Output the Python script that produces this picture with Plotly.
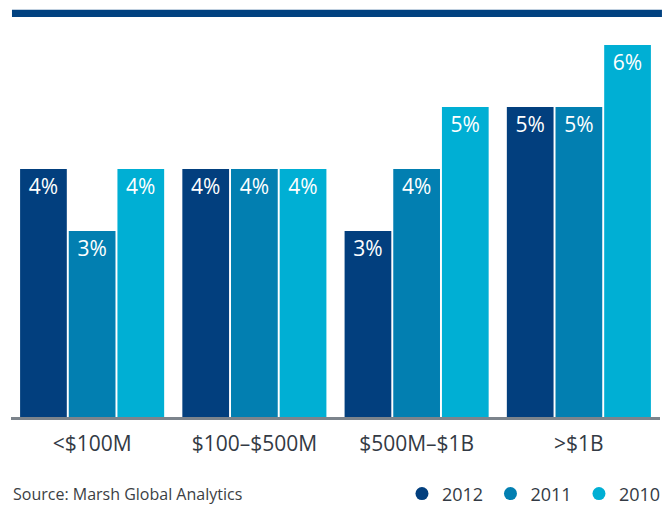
import plotly.graph_objects as go

categories = ["<$100M", "$100–$500M", "$500M–$1B", ">$1B"]
years = ["2012", "2011", "2010"]
values_2012 = [4, 4, 3, 5]
values_2011 = [3, 4, 4, 5]
values_2010 = [4, 4, 5, 6]
series = [values_2012, values_2011, values_2010]
colors = ["#023f7e", "#027fb1", "#00afd4"]

fig = go.Figure()
for name, vals, col in zip(years, series, colors):
    fig.add_trace(go.Bar(
        x=categories, y=vals, name=name, marker_color=col,
        marker_line_width=0,
        text=[f"{v}%" for v in vals], textposition="inside",
        insidetextanchor="end", textangle=0,
        textfont=dict(color="white", size=21, family="Open Sans"),
        showlegend=False, hoverinfo="skip",
    ))
for name, col in zip(years, colors):
    fig.add_trace(go.Scatter(
        x=[None], y=[None], mode="markers", name=name,
        marker=dict(symbol="circle", size=13, color=col),
    ))

fig.update_layout(
    width=672, height=512,
    margin=dict(l=3, r=20, t=32, b=103, autoexpand=False),
    paper_bgcolor="white", plot_bgcolor="white",
    barmode="group", bargap=0.1, bargroupgap=0.04,
    font=dict(family="Open Sans", color="#333a44"),
    xaxis=dict(showgrid=False, showline=True, linecolor="#7c848c", linewidth=3,
               ticks="", tickfont=dict(size=21, color="#333a44"),
               ticklabelstandoff=6, fixedrange=True, automargin=False),
    yaxis=dict(range=[0, 6.08], visible=False, fixedrange=True, automargin=False),
    legend=dict(orientation="h", x=0.6024, xanchor="left", y=-0.204, yanchor="middle",
                font=dict(size=18, color="#333a44"), entrywidth=43.5,
                entrywidthmode="pixels", traceorder="normal"),
    shapes=[dict(type="rect", xref="paper", yref="paper",
                 x0=0.0015, x1=1.003, y0=1.061, y1=1.080,
                 fillcolor="#024281", line_width=0)],
    annotations=[dict(text="Source: Marsh Global Analytics", xref="paper", yref="paper",
                      x=0.0, y=-0.204, xanchor="left", yanchor="middle",
                      showarrow=False, font=dict(size=16, color="#3c3f44"))],
)

fig.write_html("out.html")
